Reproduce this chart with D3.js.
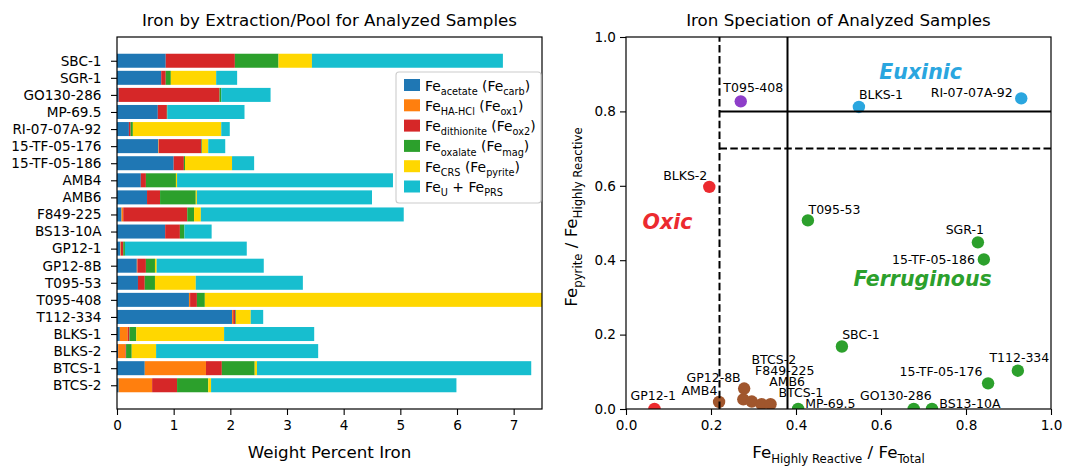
<!DOCTYPE html>
<html>
<head>
<meta charset="utf-8">
<script src="https://cdn.jsdelivr.net/npm/d3@7"></script>
<style>
  body { margin: 0; background: #fff; }
  text { font-family: "DejaVu Sans", sans-serif; fill: #000; }
</style>
</head>
<body>
<svg id="chart" width="1066" height="466"></svg>
<script>
// samples, top to bottom in the bar chart
const samples = ["SBC-1","SGR-1","GO130-286","MP-69.5","RI-07-07A-92","15-TF-05-176","15-TF-05-186","AMB4","AMB6","F849-225",
  "BS13-10A","GP12-1","GP12-8B","T095-53","T095-408","T112-334","BLKS-1","BLKS-2","BTCS-1","BTCS-2"];

// wt% Fe per extraction step
const feAcetate    = [0.86,0.78,0.03,0.72,0.21,0.73,1.00,0.42,0.53,0.08,0.85,0.06,0.35,0.37,1.27,2.03,0.05,0.02,0.49,0.03];
const feHAHCl      = [0.00,0.00,0.00,0.00,0.00,0.01,0.00,0.00,0.00,0.03,0.00,0.01,0.01,0.00,0.02,0.02,0.14,0.13,1.08,0.59];
const feDithionite = [1.22,0.08,1.78,0.16,0.03,0.75,0.18,0.09,0.23,1.13,0.26,0.04,0.15,0.12,0.12,0.04,0.03,0.01,0.28,0.44];
const feOxalate    = [0.77,0.09,0.03,0.01,0.04,0.01,0.02,0.53,0.63,0.12,0.08,0.03,0.16,0.18,0.14,0.01,0.12,0.10,0.58,0.55];
const feCRS        = [0.59,0.80,0.00,0.00,1.56,0.11,0.83,0.02,0.02,0.12,0.00,0.00,0.03,0.72,7.60,0.26,1.55,0.43,0.04,0.05];
const feUPRS       = [3.37,0.37,0.87,1.36,0.15,0.30,0.39,3.81,3.09,3.58,0.48,2.15,1.89,1.89,26.0,0.22,1.59,2.86,4.84,4.33];

const pools = [feAcetate, feHAHCl, feDithionite, feOxalate, feCRS, feUPRS];
const poolColors = ["#1f77b4","#ff7f0e","#d62728","#2ca02c","#ffd700","#17becf"];
const poolLabels = [
  [["Fe"],["acetate",1],[" (Fe"],["carb",1],[")"]],
  [["Fe"],["HA-HCl",1],[" (Fe"],["ox1",1],[")"]],
  [["Fe"],["dithionite",1],[" (Fe"],["ox2",1],[")"]],
  [["Fe"],["oxalate",1],[" (Fe"],["mag",1],[")"]],
  [["Fe"],["CRS",1],[" (Fe"],["pyrite",1],[")"]],
  [["Fe"],["U",1],[" + Fe"],["PRS",1]]
];
const weightTicks = [0,1,2,3,4,5,6,7];

// speciation scatter
const spNames = ["GP12-1","BLKS-2","T095-408","BLKS-1","RI-07-07A-92","T095-53","SGR-1","15-TF-05-186","SBC-1","T112-334",
  "15-TF-05-176","MP-69.5","GO130-286","BS13-10A","AMB4","GP12-8B","BTCS-2","F849-225","AMB6","BTCS-1"];
const hrOverT  = [0.067,0.196,0.270,0.548,0.930,0.428,0.828,0.842,0.508,0.922,0.852,0.405,0.677,0.720,0.219,0.276,0.278,0.296,0.319,0.340];
const pyOverHR = [0.000,0.597,0.827,0.812,0.835,0.507,0.448,0.402,0.168,0.103,0.069,0.000,0.000,0.000,0.019,0.026,0.055,0.020,0.013,0.013];
const spGroup  = ["oxic","oxic","possible","euxinic","euxinic","ferr","ferr","ferr","ferr","ferr",
  "ferr","ferr","ferr","ferr","equiv","equiv","equiv","equiv","equiv","equiv"];
const ratioTicks = [0,0.2,0.4,0.6,0.8,1.0];

const groupColor = { oxic:"#ec2a2f", possible:"#8e3ec9", euxinic:"#2aa6df", ferr:"#2ca02c", equiv:"#a0562d" };

// label placement [anchor, dx, dy] relative to the point, in px
const labelPlace = {
  "GP12-1":["start",-24,-8.6], "BLKS-2":["end",-2,-6.7], "T095-408":["start",-17.4,-9],
  "BLKS-1":["start",0,-7.7], "RI-07-07A-92":["end",-8.6,-1], "T095-53":["start",0.6,-6.7],
  "SGR-1":["end",6,-8], "15-TF-05-186":["end",-9,5], "SBC-1":["start",0.3,-7.4],
  "T112-334":["middle",1.5,-9], "15-TF-05-176":["end",-5.7,-7.3], "MP-69.5":["start",7,-1],
  "GO130-286":["end",18,-8.6], "BS13-10A":["start",7.3,-1], "AMB4":["end",-1.7,-7],
  "GP12-8B":["end",-2.6,-17.6], "BTCS-2":["start",7.4,-24.3], "F849-225":["start",3.3,-26.7],
  "AMB6":["start",7.6,-18], "BTCS-1":["start",8,-6.7]
};

const svg = d3.select("#chart");
svg.append("rect").attr("width",1066).attr("height",466).attr("fill","#fff");

function rich(t, parts, size) {
  let cur = 0;
  parts.forEach(p => {
    const sub = p[1] === 1;
    const off = sub ? size*0.3 : 0;
    t.append("tspan").attr("font-size", sub ? size*0.7 : size).attr("dy", off - cur).text(p[0]);
    cur = off;
  });
  return t;
}

function styleAxis(g, fs) {
  g.select(".domain").remove();
  g.selectAll(".tick line").attr("stroke","#000").attr("stroke-width",1.1);
  g.selectAll(".tick text").attr("font-size",fs).attr("font-family","DejaVu Sans").attr("fill","#000");
}

// ---------------- left: stacked bars ----------------
const L = { x0:117, x1:542, y0:37, y1:409 };
const xL = d3.scaleLinear().domain([0,7.5]).range([L.x0,L.x1]);
const yL = d3.scaleLinear().domain([-1.39,20.39]).range([L.y0,L.y1]);
const barH = yL(0.41) - yL(-0.41);

svg.append("clipPath").attr("id","clipL").append("rect")
  .attr("x",L.x0).attr("y",L.y0).attr("width",L.x1-L.x0).attr("height",L.y1-L.y0);

const stacked = samples.map((s,i) => {
  let acc = 0;
  return pools.map((p,k) => { const a = acc; acc += p[i]; return { i, k, a, b: acc }; });
});

svg.append("g").attr("clip-path","url(#clipL)")
  .selectAll("g").data(stacked).join("g")
  .selectAll("rect").data(d => d.filter(s => s.b > s.a)).join("rect")
    .attr("x", d => xL(d.a))
    .attr("width", d => xL(d.b) - xL(d.a))
    .attr("y", d => yL(d.i) - barH/2)
    .attr("height", barH)
    .attr("fill", d => poolColors[d.k]);

const gxL = svg.append("g").attr("transform",`translate(0,${L.y1})`)
  .call(d3.axisBottom(xL).tickValues(weightTicks).tickFormat(d3.format("d")).tickSize(6).tickPadding(5));
styleAxis(gxL, 13.6);

const gyL = svg.append("g").attr("transform",`translate(${L.x0},0)`)
  .call(d3.axisLeft(yL).tickValues(d3.range(samples.length)).tickFormat(i => samples[i]).tickSize(6).tickPadding(9.5));
styleAxis(gyL, 13.6);

svg.append("rect").attr("x",L.x0).attr("y",L.y0).attr("width",L.x1-L.x0).attr("height",L.y1-L.y0)
  .attr("fill","none").attr("stroke","#000").attr("stroke-width",1.2);

svg.append("text").attr("x",(L.x0+L.x1)/2).attr("y",25.5).attr("text-anchor","middle")
  .attr("font-size",16.7).text("Iron by Extraction/Pool for Analyzed Samples");
svg.append("text").attr("x",(L.x0+L.x1)/2).attr("y",458).attr("text-anchor","middle")
  .attr("font-size",16.7).text("Weight Percent Iron");

// legend
const lg = svg.append("g");
lg.append("rect").attr("x",396).attr("y",72).attr("width",145).attr("height",131).attr("rx",3)
  .attr("fill","#fff").attr("fill-opacity",0.85).attr("stroke","#cccccc").attr("stroke-width",1.1);
poolLabels.forEach((parts,k) => {
  const cy = 85 + 20.3*k;
  lg.append("rect").attr("x",404).attr("y",cy-6).attr("width",16).attr("height",12).attr("fill",poolColors[k]);
  rich(lg.append("text").attr("x",425).attr("y",cy+5.5), parts, 13.9);
});

// ---------------- right: speciation scatter ----------------
const R = { x0:626, x1:1051, y0:37, y1:409 };
const xR = d3.scaleLinear().domain([0,1]).range([R.x0,R.x1]);
const yR = d3.scaleLinear().domain([0,1]).range([R.y1,R.y0]);

svg.append("clipPath").attr("id","clipR").append("rect")
  .attr("x",R.x0).attr("y",R.y0).attr("width",R.x1-R.x0).attr("height",R.y1-R.y0);

const plotR = svg.append("g").attr("clip-path","url(#clipR)");
plotR.selectAll("circle").data(spNames).join("circle")
  .attr("cx",(d,i) => xR(hrOverT[i])).attr("cy",(d,i) => yR(pyOverHR[i])).attr("r",6.2)
  .attr("fill",(d,i) => groupColor[spGroup[i]]);

// threshold lines
const thr = [
  { x1:0.22, y1:0, x2:0.22, y2:1, dash:true },
  { x1:0.38, y1:0, x2:0.38, y2:1, dash:false },
  { x1:0.22, y1:0.8, x2:1, y2:0.8, dash:false },
  { x1:0.22, y1:0.7, x2:1, y2:0.7, dash:true }
];
plotR.selectAll("line").data(thr).join("line")
  .attr("x1",d => xR(d.x1)).attr("x2",d => xR(d.x2)).attr("y1",d => yR(d.y1)).attr("y2",d => yR(d.y2))
  .attr("stroke","#000").attr("stroke-width",2).attr("stroke-dasharray",d => d.dash ? "7.5,3.3" : null);

svg.append("g").selectAll("text").data(spNames).join("text")
  .attr("x",(d,i) => xR(hrOverT[i]) + labelPlace[d][1])
  .attr("y",(d,i) => yR(pyOverHR[i]) + labelPlace[d][2])
  .attr("text-anchor",d => labelPlace[d][0])
  .attr("font-size",12.5).text(d => d);

const regions = [
  { t:"Euxinic", x:0.596, y:0.887, c:groupColor.euxinic },
  { t:"Oxic", x:0.039, y:0.485, c:groupColor.oxic },
  { t:"Ferruginous", x:0.535, y:0.33, c:groupColor.ferr }
];
svg.append("g").selectAll("text").data(regions).join("text")
  .attr("x",d => xR(d.x)).attr("y",d => yR(d.y))
  .attr("font-size",20.5).attr("font-weight","bold").attr("font-style","italic")
  .style("fill",d => d.c).text(d => d.t);

const gxR = svg.append("g").attr("transform",`translate(0,${R.y1})`)
  .call(d3.axisBottom(xR).tickValues(ratioTicks).tickFormat(d3.format(".1f")).tickSize(6).tickPadding(5));
styleAxis(gxR, 13.6);
const gyR = svg.append("g").attr("transform",`translate(${R.x0},0)`)
  .call(d3.axisLeft(yR).tickValues(ratioTicks).tickFormat(d3.format(".1f")).tickSize(6).tickPadding(4));
styleAxis(gyR, 13.6);

svg.append("rect").attr("x",R.x0).attr("y",R.y0).attr("width",R.x1-R.x0).attr("height",R.y1-R.y0)
  .attr("fill","none").attr("stroke","#000").attr("stroke-width",1.2);

svg.append("text").attr("x",(R.x0+R.x1)/2).attr("y",25.5).attr("text-anchor","middle")
  .attr("font-size",16.7).text("Iron Speciation of Analyzed Samples");
rich(svg.append("text").attr("x",(R.x0+R.x1)/2).attr("y",457.5).attr("text-anchor","middle"),
  [["Fe"],["Highly Reactive",1],[" / Fe"],["Total",1]], 16.7);
rich(svg.append("text").attr("transform","translate(577,217) rotate(-90)").attr("text-anchor","middle"),
  [["Fe"],["pyrite",1],[" / Fe"],["Highly Reactive",1]], 16.7);
</script>
</body>
</html>
